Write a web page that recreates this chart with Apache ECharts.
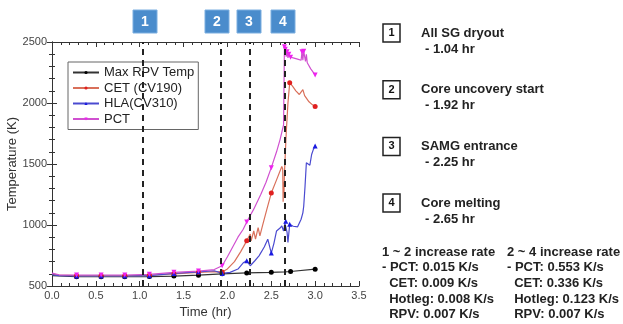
<!DOCTYPE html>
<html>
<head>
<meta charset="utf-8">
<script src="https://cdn.jsdelivr.net/npm/echarts@6/dist/echarts.min.js"></script>
<style>
  html, body { margin: 0; padding: 0; background: #fff; }
  #chart { width: 623px; height: 324px; }
</style>
</head>
<body>
<div id="chart"></div>
<script>
// [time (hr), temperature (K)]
const rpvTemp = [[0, 585], [0.28, 576], [0.56, 576], [0.83, 576], [1.11, 577], [1.39, 581], [1.67, 589],
  [1.94, 600], [2.22, 607], [2.5, 612], [2.65, 616], [2.72, 619], [3.0, 638]];
const cetTemp = [[0, 600], [0.08, 590], [0.28, 585], [0.56, 584], [0.83, 584], [1.11, 588], [1.39, 600],
  [1.67, 612], [1.85, 618], [1.94, 615], [2.0, 640], [2.08, 700], [2.15, 780], [2.22, 870], [2.24, 884],
  [2.26, 925], [2.27, 870], [2.3, 951], [2.32, 884], [2.35, 979], [2.37, 911], [2.4, 995], [2.45, 1130],
  [2.5, 1262], [2.56, 1370], [2.62, 1480], [2.63, 1460], [2.635, 1190], [2.64, 1350], [2.645, 1260],
  [2.65, 1420], [2.67, 1750], [2.69, 2000], [2.71, 2165], [2.74, 2140], [2.78, 2100], [2.82, 2070],
  [2.86, 2110], [2.88, 2060], [2.93, 2010], [2.97, 1985], [3.0, 1972]];
const hlaTemp = [[0, 592], [0.08, 585], [0.28, 582], [0.56, 582], [0.83, 582], [1.11, 585], [1.39, 603],
  [1.67, 616], [1.85, 625], [1.94, 603], [2.03, 612], [2.12, 639], [2.18, 690], [2.22, 706], [2.26, 666],
  [2.31, 705], [2.36, 747], [2.42, 820], [2.46, 884], [2.5, 770], [2.53, 850], [2.56, 951], [2.6, 975],
  [2.62, 992], [2.64, 951], [2.655, 1015], [2.665, 1030], [2.68, 940], [2.69, 857], [2.71, 1006],
  [2.75, 990], [2.8, 985], [2.84, 1047], [2.86, 1100], [2.87, 1156], [2.885, 1319], [2.9, 1510],
  [2.92, 1520], [2.94, 1490], [2.96, 1578], [2.98, 1620], [3.0, 1648]];
const pctTemp = [[0, 606], [0.08, 592], [0.28, 590], [0.56, 590], [0.83, 590], [1.11, 596], [1.39, 612],
  [1.67, 622], [1.85, 635], [1.94, 666], [2.0, 740], [2.06, 820], [2.12, 900], [2.18, 965], [2.22, 1025],
  [2.3, 1130], [2.38, 1250], [2.44, 1350], [2.5, 1470], [2.56, 1600], [2.6, 1700], [2.64, 1820],
  [2.645, 2150], [2.65, 2462], [2.655, 2400], [2.66, 2440], [2.67, 2380], [2.68, 2420], [2.69, 2370],
  [2.7, 2400], [2.72, 2375], [2.75, 2370], [2.8, 2360], [2.84, 2350], [2.85, 2420], [2.86, 2350],
  [2.87, 2425], [2.88, 2410], [2.89, 2340], [2.9, 2400], [2.91, 2330], [2.95, 2280], [3.0, 2230]];

// times that carry a marker symbol
const baseMarks = [0.28, 0.56, 0.83, 1.11, 1.39, 1.67, 1.94, 2.22, 2.5];
const rpvMarks = baseMarks.concat([2.72, 3.0]);
const cetMarks = baseMarks.concat([2.71, 3.0]);
const hlaMarks = baseMarks.concat([2.665, 2.71, 3.0]);
const pctMarks = baseMarks.concat([2.65, 2.66, 2.68, 2.7, 2.72, 2.85, 2.87, 3.0]);

const seriesNames = ['Max RPV Temp', 'CET (CV190)', 'HLA(CV310)', 'PCT'];

// event lines and notes
const eventTimes = [1.04, 1.92, 2.25, 2.65];
const eventIds = ['1', '2', '3', '4'];
const eventNames = ['All SG dryout', 'Core uncovery start', 'SAMG entrance', 'Core melting'];
const eventNotes = ['- 1.04 hr', '- 1.92 hr', '- 2.25 hr', '- 2.65 hr'];
const rate12 = ['1 ~ 2 increase rate', '- PCT: 0.015 K/s', '  CET: 0.009 K/s', '  Hotleg: 0.008 K/s', '  RPV: 0.007 K/s'];
const rate24 = ['2 ~ 4 increase rate', '- PCT: 0.553 K/s', '  CET: 0.336 K/s', '  Hotleg: 0.123 K/s', '  RPV: 0.007 K/s'];

const FONT = '"Liberation Sans", Arial, sans-serif';

function makeSeries(name, points, marks, symbol, lineColor, markColor, rotate) {
  return {
    name: name,
    type: 'line',
    symbol: symbol,
    symbolSize: 5,
    symbolRotate: rotate || 0,
    data: points.map(p => marks.includes(p[0]) ? p : { value: p, symbol: 'none' }),
    lineStyle: { color: lineColor, width: 1.2 },
    itemStyle: { color: markColor },
    emphasis: { disabled: true },
    animation: false
  };
}

const series = [
  makeSeries(seriesNames[0], rpvTemp, rpvMarks, 'circle', '#333', '#000'),
  makeSeries(seriesNames[1], cetTemp, cetMarks, 'circle', '#d9705a', '#e02020'),
  makeSeries(seriesNames[2], hlaTemp, hlaMarks, 'triangle', '#4a4ad0', '#1a1ae0'),
  makeSeries(seriesNames[3], pctTemp, pctMarks, 'triangle', '#d050d0', '#ee22ee', 180)
];
series[0].markLine = {
  silent: true,
  symbol: 'none',
  label: { show: false },
  lineStyle: { color: '#222', width: 2, type: [6, 5] },
  data: eventTimes.map(t => ({ xAxis: t }))
};

// annotations
const graphic = [];
const topBoxX = [133, 205, 237, 271];
eventIds.forEach((id, i) => {
  graphic.push({
    type: 'rect', x: topBoxX[i], y: 10,
    shape: { width: 24, height: 23 },
    style: { fill: '#4a8ccc', stroke: '#7aaee0', lineWidth: 1 }
  });
  graphic.push({
    type: 'text', x: topBoxX[i] + 12, y: 22,
    style: { text: id, fill: '#fff', font: 'bold 14px ' + FONT, align: 'center', verticalAlign: 'middle' }
  });
  const cy = 33 + i * 56.7;
  graphic.push({
    type: 'rect', x: 383, y: cy - 9,
    shape: { width: 17, height: 18 },
    style: { fill: '#fff', stroke: '#222', lineWidth: 1.5 }
  });
  graphic.push({
    type: 'text', x: 391.5, y: cy,
    style: { text: id, fill: '#111', font: 'bold 11px ' + FONT, align: 'center', verticalAlign: 'middle' }
  });
  graphic.push({
    type: 'text', x: 421, y: cy,
    style: { text: eventNames[i], fill: '#222', font: 'bold 13px ' + FONT, verticalAlign: 'middle' }
  });
  graphic.push({
    type: 'text', x: 425, y: cy + 16,
    style: { text: eventNotes[i], fill: '#222', font: 'bold 13px ' + FONT, verticalAlign: 'middle' }
  });
});
rate12.forEach((s, i) => {
  graphic.push({
    type: 'text', x: 382, y: 252 + i * 15.7,
    style: { text: s, fill: '#222', font: 'bold 13px ' + FONT, verticalAlign: 'middle' }
  });
});
rate24.forEach((s, i) => {
  graphic.push({
    type: 'text', x: 507, y: 252 + i * 15.7,
    style: { text: s, fill: '#222', font: 'bold 13px ' + FONT, verticalAlign: 'middle' }
  });
});

const tickCommon = {
  axisLine: { show: true, lineStyle: { color: '#333', width: 1 } },
  axisTick: { show: true, inside: true, length: 5, lineStyle: { color: '#333' } },
  minorTick: { show: true, splitNumber: 5, length: 3, lineStyle: { color: '#333' } },
  splitLine: { show: false }
};

const option = {
  backgroundColor: '#fff',
  animation: false,
  grid: { left: 52, right: 264, top: 42, bottom: 37 },
  legend: {
    orient: 'vertical',
    left: 68, top: 62,
    padding: [4, 4, 4, 4],
    itemGap: 2.5,
    itemWidth: 26,
    itemHeight: 4,
    backgroundColor: '#fff',
    borderColor: '#666',
    borderWidth: 1,
    borderRadius: 0,
    selectedMode: false,
    textStyle: { fontFamily: FONT, fontSize: 13, color: '#222', lineHeight: 13 },
    data: seriesNames
  },
  xAxis: [
    Object.assign({
      type: 'value', min: 0, max: 3.5, interval: 0.5,
      name: 'Time (hr)', nameLocation: 'middle', nameGap: 20,
      nameTextStyle: { fontFamily: FONT, fontSize: 13, color: '#333' },
      axisLabel: { margin: 4, fontFamily: FONT, fontSize: 11, color: '#444', formatter: v => v.toFixed(1) }
    }, tickCommon),
    Object.assign({
      type: 'value', min: 0, max: 3.5, interval: 0.5, position: 'top',
      axisLabel: { show: false }
    }, tickCommon)
  ],
  yAxis: [
    Object.assign({
      type: 'value', min: 500, max: 2500, interval: 500,
      name: 'Temperature (K)', nameLocation: 'middle', nameGap: 25,
      nameTextStyle: { fontFamily: FONT, fontSize: 13, color: '#333' },
      axisLabel: { margin: 5, fontFamily: FONT, fontSize: 11, color: '#444', formatter: v => String(v) }
    }, tickCommon),
    Object.assign({
      type: 'value', min: 500, max: 2500, interval: 500, position: 'right',
      axisLabel: { show: false }
    }, tickCommon)
  ],
  series: series,
  graphic: graphic
};

const chart = echarts.init(document.getElementById('chart'), null, { renderer: 'canvas' });
chart.setOption(option);
</script>
</body>
</html>
